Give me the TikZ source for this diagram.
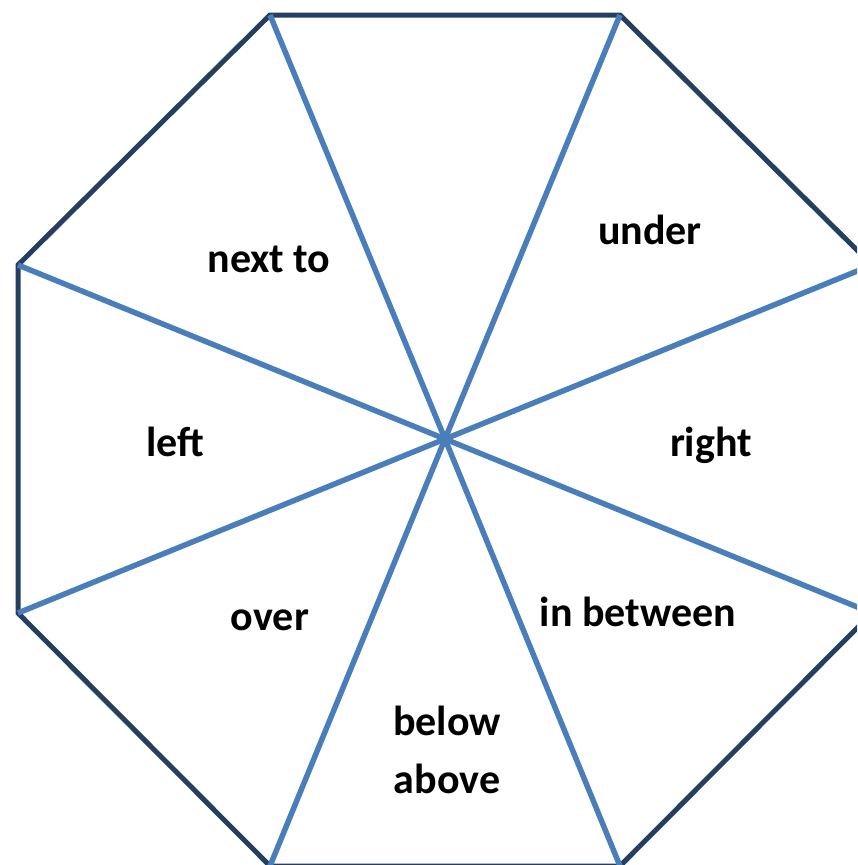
\documentclass[tikz,border=0pt]{standalone}
\usepackage{fontspec}
\setmainfont{Carlito}
\definecolor{edgenavy}{HTML}{243F60}
\definecolor{spokeblue}{HTML}{4A7EBB}
\begin{document}
\begin{tikzpicture}[x=1pt,y=-1pt,
  rim/.style={draw=edgenavy,line width=5pt,line join=miter},
  spoke/.style={draw=spokeblue,line width=5.5pt},
  lbl/.style={font=\bfseries\fontsize{42}{50}\selectfont,anchor=base,inner sep=0pt}]
\useasboundingbox (0,0) rectangle (857,865);
\clip (0,0) rectangle (857,865);
\coordinate (c) at (445,439);
\coordinate (v1) at (270,15);
\coordinate (v2) at (620,15);
\coordinate (v3) at (872,265);
\coordinate (v4) at (872,613);
\coordinate (v5) at (620,866);
\coordinate (v6) at (270,866);
\coordinate (v7) at (18,613);
\coordinate (v8) at (18,265);
\draw[rim] (v1) -- (v2) -- (v3) -- (v4) -- (v5) -- (v6) -- (v7) -- (v8) -- cycle;
\foreach \v in {v1,v2,v3,v4,v5,v6,v7,v8} \draw[spoke] (c) -- (\v);
\node[lbl] (t1) at (269,272) {next to};
\node[lbl] (t2) at (650,244) {under};
\node[lbl] (t3) at (175,456) {left};
\node[lbl] (t4) at (711,456) {right};
\node[lbl] (t5) at (270,630) {over};
\node[lbl] (t6) at (638,626) {in between};
\node[lbl] (t7) at (447,735) {below};
\node[lbl] (t8) at (447,793) {above};
\end{tikzpicture}
\end{document}
